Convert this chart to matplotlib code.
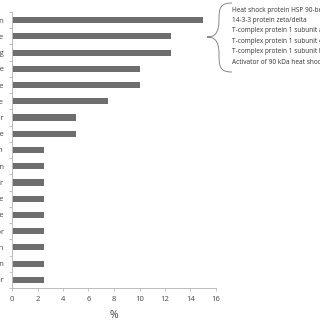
import matplotlib
matplotlib.use("Agg")
import matplotlib.pyplot as plt
from matplotlib.path import Path
from matplotlib.patches import PathPatch
import numpy as np

categories = [
    "Protein folding and stabilization",
    "Stress response",
    "Protein folding",
    "Oxidative stress response",
    "Immune response",
    "Ubiquitin-proteasome",
    "Transcription factor",
    "Inflammatory response",
    "Translation",
    "Signal transduction",
    "Transporter",
    "Cell growth and maintenance",
    "Phosphatase",
    "Kinase inhibitor",
    "Cell differentiation",
    "Vesicle-mediated secretion",
    "Receptor",
]
values = [15, 12.5, 12.5, 10, 10, 7.5, 5, 5, 2.5, 2.5, 2.5, 2.5, 2.5, 2.5, 2.5, 2.5, 2.5]
xticks = [0, 2, 4, 6, 8, 10, 12, 14, 16]
proteins = [
    "Heat shock protein HSP 90-beta",
    "14-3-3 protein zeta/delta",
    "T-complex protein 1 subunit alpha",
    "T-complex protein 1 subunit epsilon",
    "T-complex protein 1 subunit beta",
    "Activator of 90 kDa heat shock protein ATPase homolog 1",
]

plt.rcParams['font.family'] = ['Open Sans', 'DejaVu Sans']
fig = plt.figure(figsize=(3.2, 3.2), dpi=100)
ax = fig.add_axes([12/320, 1-288/320, (216-12)/320, (288-12)/320])

y = np.arange(len(categories))
ax.barh(y, values, height=0.38, color='#6e6e6e')
ax.set_ylim(len(categories)-0.5, -0.5)
ax.set_xlim(0, 16)
ax.set_xticks(xticks)
ax.set_xticklabels([str(t) for t in xticks], fontsize=5.5, color='#444444')
ax.set_yticks(y)
ax.set_yticklabels(categories, fontsize=5.5, color='#444444')
ax.set_yticks(np.arange(len(categories)+1)-0.5, minor=True)
ax.tick_params(axis='y', which='major', length=0, pad=6)
ax.tick_params(axis='y', which='minor', length=2.5, color='#bbbbbb', width=0.6)
ax.tick_params(axis='x', length=2.5, color='#bbbbbb', width=0.6, pad=3)
for s in ['top', 'right']:
    ax.spines[s].set_visible(False)
for s in ['left', 'bottom']:
    ax.spines[s].set_color('#bbbbbb')
    ax.spines[s].set_linewidth(0.7)
ax.set_xlabel('%', fontsize=7.5, color='#444444', labelpad=5)

# curly brace (annotation)
def px(x, yy):
    return (x/320, 1-yy/320)
verts = [px(232, 3), px(220, 3), px(219, 8), px(219, 20),
         px(219, 34), px(214, 37), px(207, 37),
         px(214, 37), px(219, 40), px(219, 54),
         px(219, 67), px(220, 72), px(232, 72)]
codes = [Path.MOVETO] + [Path.CURVE4] * 12
fig.patches.append(PathPatch(Path(verts, codes), transform=fig.transFigure,
                             facecolor='none', edgecolor='#888888', lw=0.7))
for i, p in enumerate(proteins):
    fig.text(232/320, 1-(10 + i*10.4)/320, p, fontsize=4.7, color='#333333',
             va='center', ha='left')

fig.savefig('out.png', dpi=100)
